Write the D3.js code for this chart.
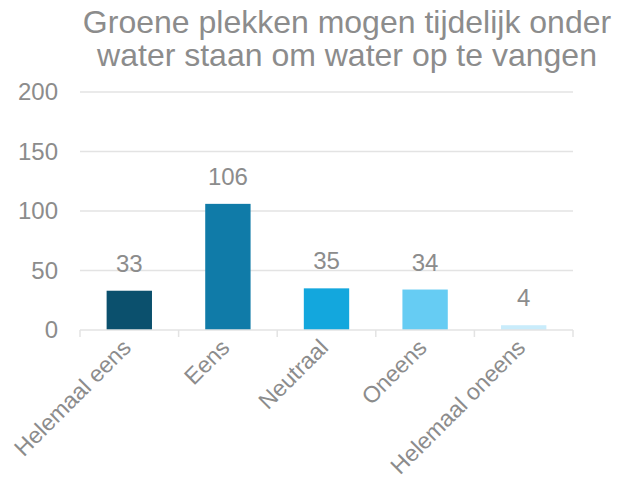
<!DOCTYPE html>
<html>
<head>
<meta charset="utf-8">
<script src="https://cdn.jsdelivr.net/npm/d3@7"></script>
<style>
  body { margin: 0; background: #fff; }
  text { font-family: "Liberation Sans", Arial, sans-serif; }
</style>
</head>
<body>
<div id="chart"></div>
<script>
// chart data
const titleLines = ["Groene plekken mogen tijdelijk onder", "water staan om water op te vangen"];
const categories = ["Helemaal eens", "Eens", "Neutraal", "Oneens", "Helemaal oneens"];
const values = [33, 106, 35, 34, 4];
const yTicks = [0, 50, 100, 150, 200];
const barColors = ["#0b506d", "#107ba8", "#13a7dd", "#66ccf3", "#c9ecfb"];

var margin = { top: 92, right: 46, bottom: 153, left: 80 },
    width = 619 - margin.left - margin.right,
    height = 483 - margin.top - margin.bottom;

const textColor = "#8c8c8c";
const gridColor = "#e3e3e3";

var svg = d3.select("#chart")
    .append("svg")
    .attr("width", width + margin.left + margin.right)
    .attr("height", height + margin.top + margin.bottom);

// title
svg.append("text")
    .attr("text-anchor", "middle")
    .attr("fill", textColor)
    .style("font-size", "32px")
    .selectAll("tspan")
    .data(titleLines)
    .join("tspan")
    .attr("x", 347)
    .attr("y", (d, i) => 33 + i * 33)
    .text(d => d);

var g = svg.append("g")
    .attr("transform", `translate(${margin.left},${margin.top})`);

var x = d3.scaleBand().domain(categories).range([0, width]).paddingInner(0.54).paddingOuter(0.27);
var y = d3.scaleLinear().domain([0, 200]).range([height, 0]);

// gridlines
g.append("g")
    .selectAll("line")
    .data(yTicks.filter(d => d > 0))
    .join("line")
    .attr("x1", 0)
    .attr("x2", width)
    .attr("y1", d => y(d))
    .attr("y2", d => y(d))
    .attr("stroke", gridColor)
    .attr("stroke-width", 1.5);

// y axis labels
var yAxis = d3.axisLeft(y).tickValues(yTicks).tickSize(0).tickPadding(22);
g.append("g")
    .call(yAxis)
    .call(s => s.select(".domain").remove())
    .selectAll("text")
    .attr("fill", textColor)
    .style("font-size", "24px");

// bars
g.selectAll(".bar")
    .data(values)
    .join("rect")
    .attr("class", "bar")
    .attr("x", (d, i) => x(categories[i]))
    .attr("width", x.bandwidth())
    .attr("y", d => y(d))
    .attr("height", d => height - y(d))
    .attr("fill", (d, i) => barColors[i]);

// value labels
g.selectAll(".val")
    .data(values)
    .join("text")
    .attr("class", "val")
    .attr("x", (d, i) => x(categories[i]) + x.bandwidth() / 2)
    .attr("y", d => y(d) - 19)
    .attr("text-anchor", "middle")
    .attr("fill", textColor)
    .style("font-size", "24px")
    .text(d => d);

// x axis: baseline with tick marks between categories
var step = x.step();
var xAxisG = g.append("g").attr("transform", `translate(0,${height})`);
xAxisG.append("line")
    .attr("x1", 0).attr("x2", width)
    .attr("stroke", gridColor).attr("stroke-width", 1.5);
xAxisG.selectAll(".tick")
    .data(d3.range(categories.length + 1))
    .join("line")
    .attr("x1", i => i * step)
    .attr("x2", i => i * step)
    .attr("y1", 0).attr("y2", 7)
    .attr("stroke", gridColor).attr("stroke-width", 1.5);

xAxisG.selectAll(".xlab")
    .data(categories)
    .join("text")
    .attr("class", "xlab")
    .attr("text-anchor", "end")
    .attr("fill", textColor)
    .style("font-size", "23px")
    .attr("transform", d => `translate(${x(d) + x.bandwidth() / 2 + 3},${19}) rotate(-45)`)
    .text(d => d);
</script>
</body>
</html>
